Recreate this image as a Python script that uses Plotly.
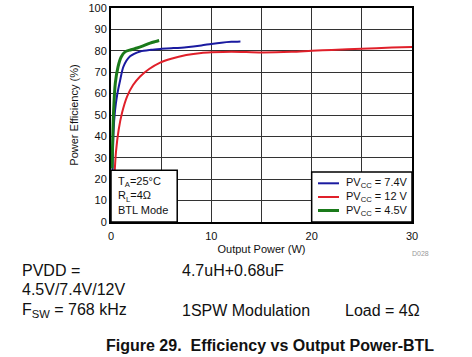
import plotly.graph_objects as go

# Data
x_74 = [0.15, 0.25, 0.4, 0.6, 0.9, 1.25, 1.9, 2.9, 4.0, 5.0, 6.0, 7.5, 9.0, 10.0, 11.0, 12.0, 12.9]
y_74 = [22, 42, 52, 59, 66, 72.7, 77.4, 79.7, 80.5, 80.9, 81.2, 81.7, 82.5, 83.2, 83.8, 84.2, 84.4]

x_12 = [0.35, 0.5, 0.76, 1.1, 1.6, 2.2, 2.9, 3.8, 4.9, 6.0, 7.5, 9.0, 10.0, 12.0, 15.0, 18.0, 20.0, 22.0, 25.0, 28.0, 30.0]
y_12 = [22, 33, 43, 51, 58.6, 64, 68, 71.5, 74.5, 76.3, 78, 79, 79.3, 79.6, 79.2, 79.5, 80, 80.4, 81, 81.5, 81.8]

x_45 = [0.1, 0.26, 0.43, 0.7, 1.0, 1.4, 2.0, 2.6, 3.2, 3.9, 4.4, 4.8]
y_45 = [25, 52, 64.9, 72.5, 77, 79.5, 80.5, 81.3, 82.3, 83.6, 84.3, 84.8]

series_names = ["PV<sub>CC</sub> = 7.4V", "PV<sub>CC</sub> = 12 V", "PV<sub>CC</sub> = 4.5V"]
series_colors = ["#1a1aa0", "#e0202a", "#1a7a1a"]
series_widths = [2, 2, 3]

x_ticks = [0, 5, 10, 15, 20, 25, 30]
x_ticktext = ["0", "", "10", "", "20", "", "30"]
y_ticks = list(range(0, 101, 10))

FONT = "Liberation Sans, Arial, sans-serif"

fig = go.Figure()
for xs, ys, name, col, w in zip([x_74, x_12, x_45], [y_74, y_12, y_45], series_names, series_colors, series_widths):
    fig.add_trace(go.Scatter(x=xs, y=ys, mode="lines", name=name, showlegend=False,
                             line=dict(color=col, width=w, shape="spline", smoothing=0.8)))

L, R, T, B = 111, 60, 8, 135
W, H = 472, 357
pw = W - L - R
ph = H - T - B

def px(X):
    return (X - L) / pw

def py(Y):
    return (T + ph - Y) / ph

annotations = []
def txt(text, X, Y, size=16, bold=False, color="#111", xanchor="left"):
    annotations.append(dict(text=("<b>%s</b>" % text) if bold else text,
                            x=px(X), y=py(Y), xref="paper", yref="paper",
                            xanchor=xanchor, yanchor="middle", showarrow=False,
                            font=dict(family=FONT, size=size, color=color)))

txt("PVDD =", 20, 270)
txt("4.5V/7.4V/12V", 20, 289)
txt("F<sub>SW</sub> = 768 kHz", 20, 310)
txt("4.7uH+0.68uF", 180, 270)
txt("1SPW Modulation", 180, 310)
txt("Load = 4Ω", 343, 310)
txt("Figure 29.\u00a0 Efficiency vs Output Power-BTL", 104, 345, size=16, bold=True)
txt("D028", 410, 253, size=7, color="#999")

# Conditions box text
annotations.append(dict(text="T<sub>A</sub>=25°C<br>R<sub>L</sub>=4Ω<br>BTL Mode",
                        x=0.45, y=12.3, xref="x", yref="y", xanchor="left", yanchor="middle",
                        align="left", showarrow=False,
                        font=dict(family=FONT, size=11, color="#111")))

shapes = [
    dict(type="rect", xref="x", yref="y", x0=0, x1=6.6, y0=0, y1=24.2,
         fillcolor="white", line=dict(color="black", width=1.5), layer="above"),
    dict(type="rect", xref="x", yref="y", x0=20, x1=30, y0=0, y1=23.4,
         fillcolor="white", line=dict(color="black", width=1.5), layer="above"),
]

# Legend (key samples + labels) inside the lower-right box
legend_rows_y = [183.3, 197, 210.5]
for name, col, w, ry in zip(series_names, series_colors, series_widths, legend_rows_y):
    shapes.append(dict(type="line", xref="paper", yref="paper",
                       x0=px(318), x1=px(339), y0=py(ry), y1=py(ry),
                       line=dict(color=col, width=w), layer="above"))
    txt(name, 344, ry, size=11)

fig.update_layout(
    template="none",
    width=W, height=H,
    margin=dict(l=L, r=R, t=T, b=B, autoexpand=False),
    paper_bgcolor="white", plot_bgcolor="white",
    font=dict(family=FONT, size=11, color="#111"),
    showlegend=False,
    xaxis=dict(range=[0, 30], tickmode="array", tickvals=x_ticks, ticktext=x_ticktext,
               showgrid=True, gridcolor="#333", gridwidth=1, automargin=False,
               showline=True, linecolor="black", linewidth=2, mirror=True,
               zeroline=False, ticks="", tickfont=dict(size=11), ticklabelstandoff=3,
               title=dict(text="Output Power (W)", font=dict(size=11), standoff=4)),
    yaxis=dict(range=[0, 100], tickmode="array", tickvals=y_ticks,
               showgrid=True, gridcolor="#333", gridwidth=1, automargin=False,
               showline=True, linecolor="black", linewidth=2, mirror=True,
               zeroline=False, ticks="", tickfont=dict(size=11),
               title=dict(text="Power Efficiency (%)", font=dict(size=11), standoff=8)),
    shapes=shapes,
    annotations=annotations,
)

fig.write_html("out.html", config={"displayModeBar": False},
               post_script="document.body.style.margin='0';")
